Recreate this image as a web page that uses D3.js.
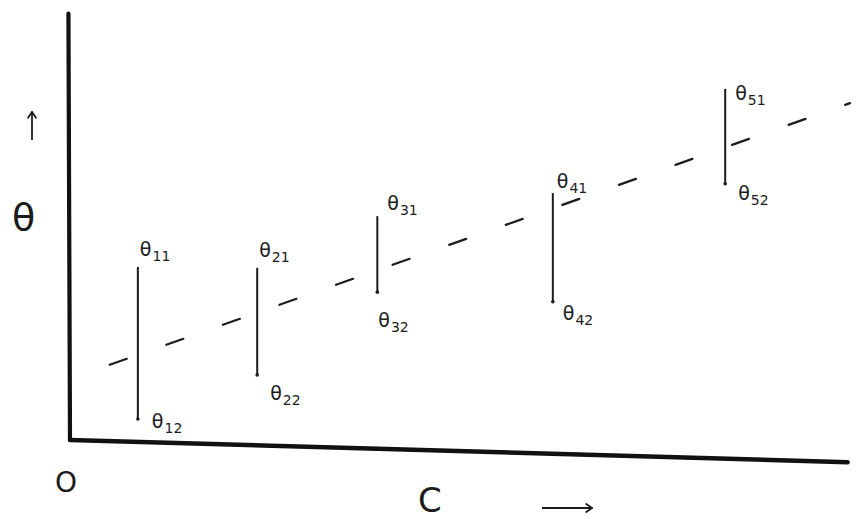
<!DOCTYPE html>
<html>
<head>
<meta charset="utf-8">
<script src="https://cdn.jsdelivr.net/npm/d3@7"></script>
<style>
  html, body { margin: 0; padding: 0; background: #fff; }
  svg { display: block; }
  text { font-family: "DejaVu Sans", sans-serif; fill: #1c1c1c; }
</style>
</head>
<body>
<script>
// Concentration levels (C) at which θ was measured
const concentrations = [8.7, 24.0, 39.4, 61.9, 84.0];
// Upper and lower θ readings at each concentration
const thetaHigh = [41.2, 41.0, 53.3, 58.8, 83.6];
const thetaLow  = [5.0, 15.5, 35.2, 32.9, 61.0];
// Label subscripts for the upper / lower readings
const highLabels = ["11", "21", "31", "41", "51"];
const lowLabels  = ["12", "22", "32", "42", "52"];
// Fitted trend through the readings (start and end)
const trendC     = [5.1, 100];
const trendTheta = [17.9, 80.2];

const W = 856, H = 519;
const svg = d3.select("body").append("svg").attr("width", W).attr("height", H);

const x = d3.scaleLinear().domain([0, 100]).range([70, 850]);
const y = d3.scaleLinear().domain([0, 100]).range([440, 20]);
const line = d3.line().x(d => x(d[0])).y(d => y(d[1]));

// label placement nudges (px) for the upper and lower tags
const highNudge = [[2, -11], [2, -11], [10, -6], [4, -5], [10, 11]];
const lowNudge  = [[14, 9], [13, 25], [1, 35], [10, 18], [13, 16]];

// axes
svg.append("path")
  .attr("d", line([[-0.2, 101.5], [0, 0]]))
  .attr("fill", "none").attr("stroke", "#111").attr("stroke-width", 4.2)
  .attr("stroke-linecap", "round");
svg.append("path")
  .attr("d", line([[0, 0], [99.7, -5.3]]))
  .attr("fill", "none").attr("stroke", "#111").attr("stroke-width", 4.5)
  .attr("stroke-linecap", "round");

// dashed trend line
svg.append("path")
  .attr("d", line(trendC.map((c, i) => [c, trendTheta[i]])))
  .attr("fill", "none").attr("stroke", "#1c1c1c").attr("stroke-width", 2.2)
  .attr("stroke-dasharray", "18,42").attr("stroke-linecap", "round");

// θ range bars
const g = svg.append("g");
concentrations.forEach((c, i) => {
  g.append("line")
    .attr("x1", x(c)).attr("x2", x(c))
    .attr("y1", y(thetaHigh[i])).attr("y2", y(thetaLow[i]))
    .attr("stroke", "#1c1c1c").attr("stroke-width", 2);
  g.append("circle").attr("cx", x(c)).attr("cy", y(thetaLow[i])).attr("r", 1.8).attr("fill", "#1c1c1c");

  const th = g.append("text")
    .attr("x", x(c) + highNudge[i][0]).attr("y", y(thetaHigh[i]) + highNudge[i][1])
    .attr("font-size", 19);
  th.append("tspan").text("θ");
  th.append("tspan").attr("font-size", 14).attr("dy", 5).attr("dx", 1).text(highLabels[i]);

  const tl = g.append("text")
    .attr("x", x(c) + lowNudge[i][0]).attr("y", y(thetaLow[i]) + lowNudge[i][1])
    .attr("font-size", 19);
  tl.append("tspan").text("θ");
  tl.append("tspan").attr("font-size", 14).attr("dy", 5).attr("dx", 1).text(lowLabels[i]);
});

// axis titles
svg.append("text").attr("x", 55).attr("y", 492).attr("font-size", 28).text("O");
svg.append("text").attr("x", 418).attr("y", 512).attr("font-size", 34).text("C");
svg.append("text").attr("x", 12).attr("y", 230).attr("font-size", 38).text("θ");

// direction arrows
const arrow = (x1, y1, x2, y2) => {
  svg.append("line").attr("x1", x1).attr("y1", y1).attr("x2", x2).attr("y2", y2)
    .attr("stroke", "#1c1c1c").attr("stroke-width", 1.8);
  const a = Math.atan2(y2 - y1, x2 - x1), L = 7;
  [0.6, -0.6].forEach(s => {
    svg.append("line").attr("x1", x2).attr("y1", y2)
      .attr("x2", x2 - L * Math.cos(a + s)).attr("y2", y2 - L * Math.sin(a + s))
      .attr("stroke", "#1c1c1c").attr("stroke-width", 1.8).attr("stroke-linecap", "round");
  });
};
arrow(32, 140, 32, 112);
arrow(542, 508, 592, 508);
</script>
</body>
</html>
